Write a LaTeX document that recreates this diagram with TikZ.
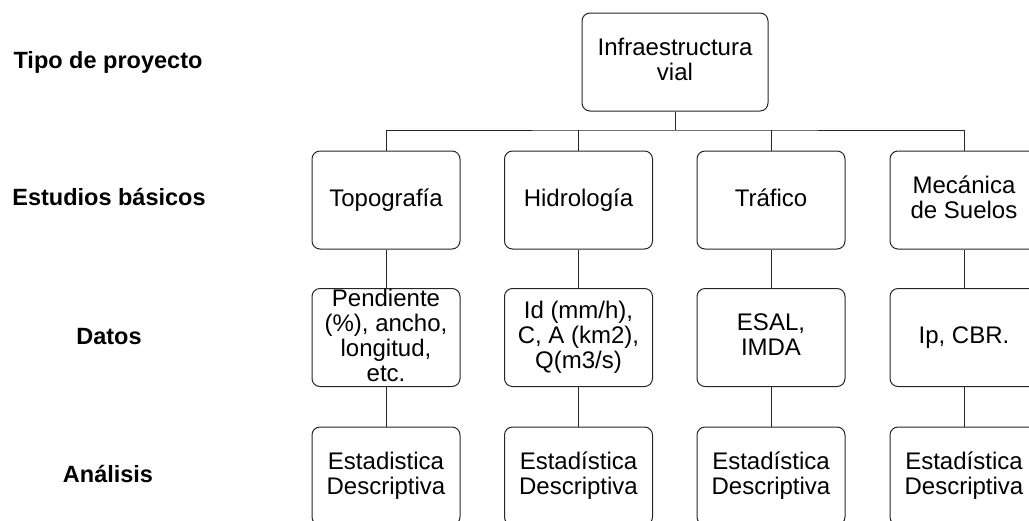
\documentclass[tikz,border=0pt]{standalone}
\usepackage{fontspec}
\setmainfont{Liberation Sans}
\newcommand\mystrut{\rule[-5pt]{0pt}{22pt}}
\begin{document}
\begin{tikzpicture}[x=1pt,y=-1pt,
  every node/.style={font=\fontsize{24}{25}\selectfont},
  box/.style={draw=black!85, line width=1pt, rounded corners=8pt, minimum width=148pt, minimum height=98pt, inner sep=0pt, align=center, execute at begin node=\mystrut, execute at end node=\mystrut},
  lbl/.style={font=\fontsize{23.5}{25}\selectfont\bfseries, inner sep=0pt, text height=17pt, text depth=5pt},
  conn/.style={draw=black!85, line width=1pt}]
\useasboundingbox (0,0) rectangle (1029,520);
\clip (0,0) rectangle (1029,520);
% labels
\node[lbl] (l1) at (108,62) {Tipo de proyecto};
\node[lbl] (l2) at (109,199) {Estudios básicos};
\node[lbl] (l3) at (109,338) {Datos};
\node[lbl] (l4) at (108,476) {Análisis};
% top
\node[box, minimum width=186pt] (top) at (675,62) {Infraestructura\\vial};
% row 2
\node[box] (a1) at (386,200) {Topografía};
\node[box] (a2) at (578.5,200) {Hidrología};
\node[box] (a3) at (771,200) {Tráfico};
\node[box] (a4) at (964,200) {Mecánica\\de Suelos};
% row 3
\node[box] (b1) at (386,337.5) {Pendiente\\(\%), ancho,\\longitud,\\etc.};
\node[box] (b2) at (578.5,337.5) {Id (mm/h),\\C, A (km2),\\Q(m3/s)};
\node[box] (b3) at (771,337.5) {ESAL,\\IMDA};
\node[box] (b4) at (964,337.5) {Ip, CBR.};
% row 4
\node[box] (c1) at (386,476) {Estadistica\\Descriptiva};
\node[box] (c2) at (578.5,476) {Estadística\\Descriptiva};
\node[box] (c3) at (771,476) {Estadística\\Descriptiva};
\node[box] (c4) at (964,476) {Estadística\\Descriptiva};
% connectors
\coordinate (bus) at (675,130);
\draw[conn] (top.south) -- (bus);
\draw[conn] (a1.north) |- (bus) -| (a4.north);
\draw[conn] (a2.north) -- (a2.north |- bus);
\draw[conn] (a3.north) -- (a3.north |- bus);
\foreach \i in {1,2,3,4}{
  \draw[conn] (a\i.south) -- (b\i.north);
  \draw[conn] (b\i.south) -- (c\i.north);
}
\end{tikzpicture}
\end{document}
